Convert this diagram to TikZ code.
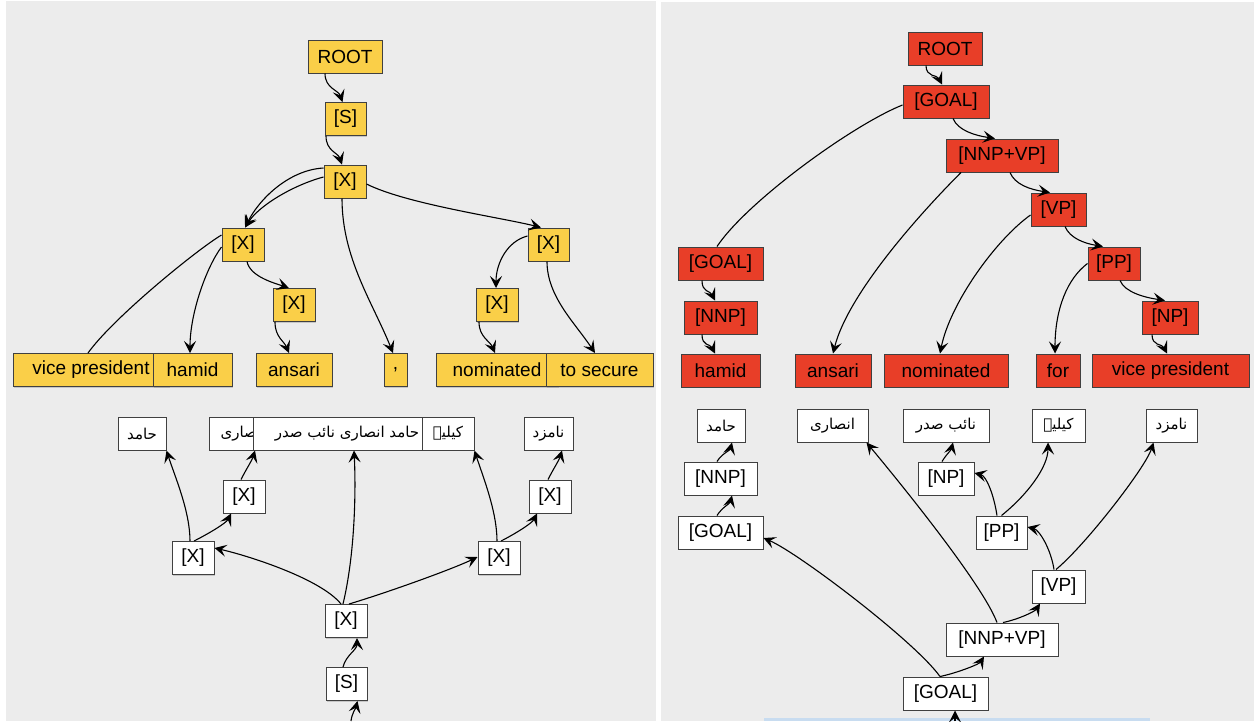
\documentclass[tikz,border=0pt]{standalone}
\usepackage{fontspec}
\setmainfont{Liberation Sans}
\newfontfamily\urdu[Script=Arabic]{DejaVu Sans}
\TeXXeTstate=1
\usetikzlibrary{arrows.meta,shadows}
\definecolor{panelgray}{RGB}{236,236,236}
\definecolor{nodeyellow}{RGB}{250,207,72}
\definecolor{nodered}{RGB}{232,62,40}
\definecolor{stripblue}{RGB}{200,220,240}
\newcommand{\lab}{\fontsize{19}{21}\selectfont}
\newcommand{\ur}[1]{{\urdu\fontsize{15}{18}\selectfont\beginR #1\endR}}

\begin{document}
\begin{tikzpicture}[x=1pt,y=-1pt,>={Stealth[length=12pt,width=12pt,inset=5pt]},
  box/.style={rectangle, draw=black!75, line width=1pt, inner sep=0pt, minimum height=33pt, font=\lab, drop shadow={shadow xshift=1pt,shadow yshift=-1pt,opacity=.35}},
  ybox/.style={box, fill=nodeyellow},
  rbox/.style={box, fill=nodered},
  wbox/.style={box, fill=white},
  link/.style={->, line width=1.1pt, black},
  bare/.style={line width=1.1pt, black}]
\useasboundingbox (0,0) rectangle (1254,721);
\fill[white] (0,0) rectangle (1254,721);
\fill[panelgray] (6,1) rectangle (655.5,721);
\fill[panelgray] (661,2) rectangle (1254,721);
\fill[stripblue] (764,718) rectangle (1150,721);

% left panel, upper tree
\draw (345,56.5) node[ybox,minimum width=74pt] (lroot) {ROOT};
\draw (345.5,119) node[ybox,minimum width=41pt] (ls) {[S]};
\draw (345,181.5) node[ybox,minimum width=42pt] (lx0) {[X]};
\draw (243,244.5) node[ybox,minimum width=42pt] (lx1) {[X]};
\draw (548.5,244.5) node[ybox,minimum width=41pt] (lx2) {[X]};
\draw (294,305) node[ybox,minimum width=42pt] (lx3) {[X]};
\draw (497,305) node[ybox,minimum width=42pt] (lx4) {[X]};
\draw (91,370) node[ybox,minimum width=156pt] (lvice) {vice president};
\draw (192.5,370) node[ybox,minimum width=79pt] (lhamid) {hamid};
\draw (294,370) node[ybox,minimum width=76pt] (lansari) {ansari};
\draw (395.5,370) node[ybox,minimum width=23pt] (lcomma) {,};
\draw (497,370) node[ybox,minimum width=122pt] (lnom) {nominated};
\draw (599.5,370) node[ybox,minimum width=107pt] (lsecure) {to secure};
\draw[link] ([xshift=-20pt]lroot.south) .. controls +(0,15) and +(-4,-12) .. ([xshift=-3pt]ls.north);
\draw[link] ([xshift=-19.5pt]ls.south) .. controls +(0,15) and +(-4,-12) .. ([xshift=-3pt]lx0.north);
\draw[link] ([yshift=13.5pt]lx0.west) .. controls +(-35,2) and +(14,-28) .. ([xshift=2pt]lx1.north);
\draw[link] ([yshift=4.5pt]lx0.west) .. controls +(-30,8) and +(14,-22) .. ([xshift=2pt]lx1.north);
\draw[link] ([yshift=-2.5pt]lx0.east) .. controls +(40,20) and +(-40,-10) .. ([xshift=-7.5pt]lx2.north);
\draw[link] ([xshift=-3pt]lx0.south) .. controls +(0,60) and +(-20,-50) .. ([xshift=-2.5pt]lcomma.north);
\draw[bare] ([yshift=9.5pt]lx1.west) .. controls +(-25,15) and +(25,-35) .. ([xshift=-3pt]lvice.north);
\draw[link] ([yshift=-2.5pt]lx1.west) .. controls +(-15,20) and +(0,-40) .. ([xshift=-2.5pt]lhamid.north);
\draw[link] ([xshift=4pt]lx1.south) .. controls +(3,15) and +(-15,-5) .. ([xshift=-5pt]lx3.north);
\draw[link] ([xshift=-19pt]lx3.south) .. controls +(0,15) and +(-5,-12) .. ([xshift=-5pt]lansari.north);
\draw[link] ([yshift=8.5pt]lx2.west) .. controls +(-20,5) and +(0,-25) .. ([xshift=-1pt]lx4.north);
\draw[link] ([xshift=-1.5pt]lx2.south) .. controls +(0,35) and +(-20,-30) .. ([xshift=-4.5pt]lsecure.north);
\draw[link] ([xshift=-18pt]lx4.south) .. controls +(0,15) and +(-5,-12) .. ([xshift=-2pt]lnom.north);

% left panel, lower tree
\draw (142,433.5) node[wbox,minimum width=48pt] (lu1) {\ur{حامد}};
\draw (243,433.5) node[wbox,minimum width=68pt] (lu2) {\ur{انصاری}};
\draw (347,433.5) node[wbox,minimum width=188pt] (lu3) {\ur{حامد انصاری نائب صدر}};
\draw (448,433.5) node[wbox,minimum width=52pt] (lu4) {\ur{کیلیے}};
\draw (548.5,433.5) node[wbox,minimum width=49pt] (lu5) {\ur{نامزد}};
\draw (244,496.5) node[wbox,minimum width=42pt] (lxa) {[X]};
\draw (550,496.5) node[wbox,minimum width=42pt] (lxb) {[X]};
\draw (193,558) node[wbox,minimum width=42pt] (lxl) {[X]};
\draw (499,558) node[wbox,minimum width=42pt] (lxr) {[X]};
\draw (346,621) node[wbox,minimum width=42pt] (lxc) {[X]};
\draw (346.5,684) node[wbox,minimum width=41pt] (lsb) {[S]};
\coordinate (lin) at (351,721);
\draw[link] (lin) .. controls +(1,-8) and +(-2,8) .. ([xshift=11pt]lsb.south);
\draw[link] ([xshift=-3.5pt]lsb.north) .. controls +(3,-12) and +(0,12) .. ([xshift=11pt]lxc.south);
\draw[link] ([xshift=-5pt]lxc.north) .. controls +(-20,-25) and +(35,8) .. ([yshift=10pt]lxl.east);
\draw[link] ([xshift=-3pt]lxc.north) .. controls +(12,-50) and +(2,40) .. ([xshift=7pt]lu3.south);
\draw[link] ([xshift=3pt]lxc.north) .. controls +(40,-12) and +(-25,12) .. ([yshift=1pt]lxr.west);
\draw[link] ([xshift=-3pt]lxl.north) .. controls +(0,-30) and +(8,25) .. (lu1.south east);
\draw[link] ([xshift=1pt]lxl.north) .. controls +(12,-6) and +(-5,10) .. ([xshift=-13pt]lxa.south);
\draw[link] ([xshift=-3pt]lxa.north) .. controls +(5,-10) and +(-3,10) .. ([xshift=12pt]lu2.south);
\draw[link] ([xshift=-2pt]lxr.north) .. controls +(0,-30) and +(8,25) .. (lu4.south east);
\draw[link] ([xshift=2pt]lxr.north) .. controls +(12,-6) and +(-5,10) .. ([xshift=-13pt]lxb.south);
\draw[link] ([xshift=-2pt]lxb.north) .. controls +(5,-10) and +(-3,10) .. ([xshift=13.5pt]lu5.south);

% right panel, upper tree
\draw (945,48.5) node[rbox,minimum width=74pt] (rroot) {ROOT};
\draw (946,101.5) node[rbox,minimum width=86pt] (rgoal) {[GOAL]};
\draw (1002,155.5) node[rbox,minimum width=112pt] (rnv) {[NNP+VP]};
\draw (1058.5,209.5) node[rbox,minimum width=55pt] (rvp) {[VP]};
\draw (1114,263.5) node[rbox,minimum width=52pt] (rpp) {[PP]};
\draw (1170,317.5) node[rbox,minimum width=56pt] (rnp) {[NP]};
\draw (720.5,263.5) node[rbox,minimum width=85pt] (rgoalb) {[GOAL]};
\draw (720.5,317.5) node[rbox,minimum width=73pt] (rnnp) {[NNP]};
\draw (720.5,370.5) node[rbox,minimum width=79pt] (rhamid) {hamid};
\draw (833,370.5) node[rbox,minimum width=76pt] (ransari) {ansari};
\draw (946,370.5) node[rbox,minimum width=124pt] (rnom) {nominated};
\draw (1058,370.5) node[rbox,minimum width=44pt] (rfor) {for};
\draw (1170.5,370.5) node[rbox,minimum width=157pt] (rvice) {vice president};
\draw[link] ([xshift=-19pt]rroot.south) .. controls +(0,12) and +(-5,-10) .. ([xshift=-4pt]rgoal.north);
\draw[bare] ([yshift=-3.5pt]rgoal.west) .. controls +(-50,20) and +(30,-45) .. ([xshift=-3.5pt]rgoalb.north);
\draw[link] ([xshift=7pt]rgoal.south) .. controls +(5,12) and +(-20,-3) .. ([xshift=-7pt]rnv.north);
\draw[link] ([xshift=-41pt]rnv.south) .. controls +(-40,40) and +(15,-60) .. (ransari.north);
\draw[link] ([xshift=8pt]rnv.south) .. controls +(5,12) and +(-20,-3) .. ([xshift=-8.5pt]rvp.north);
\draw[link] ([yshift=-5.5pt]rvp.west) .. controls +(-35,25) and +(10,-50) .. ([xshift=-6pt]rnom.north);
\draw[link] ([xshift=6.5pt]rvp.south) .. controls +(5,12) and +(-18,-3) .. ([xshift=-11pt]rpp.north);
\draw[link] (rpp.west) .. controls +(-20,15) and +(0,-45) .. ([xshift=-3pt]rfor.north);
\draw[link] ([xshift=6pt]rpp.south) .. controls +(5,12) and +(-20,-3) .. ([xshift=-5pt]rnp.north);
\draw[link] ([xshift=-18pt]rnp.south) .. controls +(0,12) and +(-5,-10) .. ([xshift=-3.5pt]rvice.north);
\draw[link] ([xshift=-18.5pt]rgoalb.south) .. controls +(0,12) and +(-5,-10) .. ([xshift=-5.5pt]rnnp.north);
\draw[link] ([xshift=-18.5pt]rnnp.south) .. controls +(0,12) and +(-5,-10) .. ([xshift=-5.5pt]rhamid.north);

% right panel, lower tree
\draw (721,425.5) node[wbox,minimum width=48pt] (ru1) {\ur{حامد}};
\draw (832.5,425.5) node[wbox,minimum width=71pt] (ru2) {\ur{انصاری}};
\draw (946,425.5) node[wbox,minimum width=86pt] (ru3) {\ur{نائب صدر}};
\draw (1058.5,425.5) node[wbox,minimum width=53pt] (ru4) {\ur{کیلیے}};
\draw (1171.5,425.5) node[wbox,minimum width=51pt] (ru5) {\ur{نامزد}};
\draw (720.5,478.5) node[wbox,minimum width=73pt] (rnnpb) {[NNP]};
\draw (946,478.5) node[wbox,minimum width=56pt] (rnpb) {[NP]};
\draw (720.5,532.5) node[wbox,minimum width=85pt] (rgoalc) {[GOAL]};
\draw (1001.5,532.5) node[wbox,minimum width=51pt] (rppb) {[PP]};
\draw (1058.5,586.5) node[wbox,minimum width=53pt] (rvpb) {[VP]};
\draw (1002,639.5) node[wbox,minimum width=112pt] (rnvb) {[NNP+VP]};
\draw (945.5,693.5) node[wbox,minimum width=85pt] (rgoald) {[GOAL]};
\coordinate (rin) at (955,721);
\draw[link] (rin) -- ([xshift=9.5pt]rgoald.south);
\draw[link] ([xshift=-5.5pt]rgoald.north) .. controls +(15,-3) and +(-5,8) .. ([xshift=-18pt]rnvb.south);
\draw[link] ([xshift=-5.5pt]rgoald.north) .. controls +(-25,-35) and +(35,15) .. ([yshift=-5.5pt]rgoalc.east);
\draw[link] ([xshift=-5pt]rnvb.north) .. controls +(-15,-40) and +(25,30) .. ([xshift=-2pt]ru2.south east);
\draw[link] ([xshift=1pt]rnvb.north) .. controls +(15,-3) and +(-5,8) .. ([xshift=-18.5pt]rvpb.south);
\draw[link] ([xshift=-4.5pt]rvpb.north) .. controls +(-3,-20) and +(12,3) .. ([yshift=5.5pt]rppb.east);
\draw[link] ([xshift=-2.5pt]rvpb.north) .. controls +(30,-25) and +(-8,25) .. ([xshift=8pt]ru5.south west);
\draw[link] ([xshift=-4.5pt]rppb.north) .. controls +(-3,-20) and +(12,3) .. ([yshift=5.5pt]rnpb.east);
\draw[link] (rppb.north) .. controls +(25,-20) and +(0,25) .. ([xshift=-10.5pt]ru4.south);
\draw[link] ([xshift=-4pt]rnpb.north) .. controls +(5,-8) and +(-2,8) .. ([xshift=7pt]ru3.south);
\draw[link] ([xshift=-3.5pt]rgoalc.north) .. controls +(5,-8) and +(-2,8) .. ([xshift=11.5pt]rnnpb.south);
\draw[link] ([xshift=-3.5pt]rnnpb.north) .. controls +(5,-8) and +(-2,8) .. ([xshift=11pt]ru1.south);
\end{tikzpicture}
\end{document}
